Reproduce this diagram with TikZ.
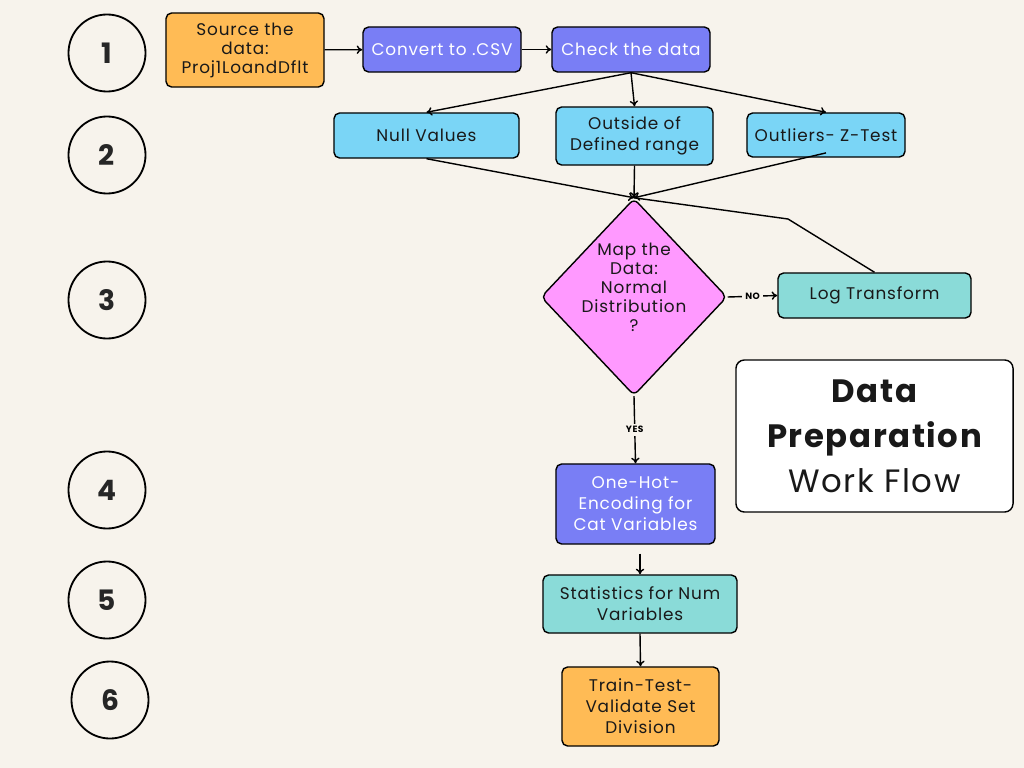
\documentclass[tikz,border=0pt]{standalone}
\usepackage{fontspec}
\setmainfont{Poppins}[LetterSpace=5]
\usetikzlibrary{positioning,shapes.geometric,arrows.meta}
\definecolor{paper}{HTML}{F7F3EC}
\definecolor{orangebox}{HTML}{FFBB55}
\definecolor{purplebox}{HTML}{797EF5}
\definecolor{bluebox}{HTML}{7AD5F6}
\definecolor{pinkbox}{HTML}{FF99FF}
\definecolor{tealbox}{HTML}{8ADBD8}
\newcommand{\SourceColor}{orangebox}
\newcommand{\ProcessColor}{purplebox}
\newcommand{\CheckColor}{bluebox}
\newcommand{\DecisionColor}{pinkbox}
\newcommand{\TransformColor}{tealbox}

\begin{document}
\begin{tikzpicture}[
	x=0.025cm, y=-0.025cm,
	% Define styles and settings
	box/.style={rectangle, draw, line width=1pt, rounded corners=4pt, text centered, align=center, inner sep=2pt, text=black!90, font=\fontsize{12}{15}\selectfont},
	stepcircle/.style={circle, draw, line width=1.3pt, minimum size=1.925cm, text=black!85, font=\fontsize{20}{20}\selectfont\bfseries},
	arrow/.style={-{To[length=4pt,width=6pt]}, line width=1pt},
	line/.style={line width=1pt},
	answer/.style={fill=paper, inner sep=2pt, font=\fontsize{6.5}{7}\selectfont\bfseries}
	]
	% \draw[help lines] (0,0) grid (1024,768);
	\fill[paper] (0,0) rectangle (1024,768);

	% steps on the left
	\draw (107,53) node[stepcircle] (Step_1) {1};
	\draw (107,155) node[stepcircle] (Step_2) {2};
	\draw (107,300) node[stepcircle] (Step_3) {3};
	\draw (107,490) node[stepcircle] (Step_4) {4};
	\draw (107,600) node[stepcircle] (Step_5) {5};
	\draw (110,700) node[stepcircle] (Step_6) {6};

	\draw (245,50) node[box,minimum width=3.95cm,minimum height=1.85cm,fill=\SourceColor,font=\fontsize{12}{13.5}\selectfont] (Source) {Source the\\data:\\Proj1LoandDflt};
	\draw (442,49.5) node[box,minimum width=3.95cm,minimum height=1.125cm,fill=\ProcessColor,text=white] (Convert) {Convert to .CSV};
	\draw (631,49.5) node[box,minimum width=3.95cm,minimum height=1.125cm,fill=\ProcessColor,text=white] (Check) {Check the data};

	\draw (426.5,135.5) node[box,minimum width=4.625cm,minimum height=1.125cm,fill=\CheckColor] (Null) {Null Values};
	\draw (634.5,136) node[box,minimum width=3.925cm,minimum height=1.45cm,fill=\CheckColor] (Outside) {Outside of\\Defined range};
	\draw (826,135) node[box,minimum width=3.95cm,minimum height=1.1cm,fill=\CheckColor] (Outliers) {Outliers- Z-Test};

	\draw (634,297) node[diamond,draw,line width=1pt,rounded corners=4pt,fill=\DecisionColor,minimum width=4.65cm,minimum height=4.925cm,inner sep=0pt] (Normal) {};
	\draw (634,287) node[align=center,text=black!90,font=\fontsize{12}{13.5}\selectfont] (NormalText) {Map the\\Data:\\Normal\\Distribution\\?};
	\draw (874.5,295.5) node[box,minimum width=4.825cm,minimum height=1.125cm,fill=\TransformColor] (Log) {Log Transform};
	\coordinate (LogBend) at (788,219);

	\draw (874.5,436) node[box,minimum width=6.925cm,minimum height=3.8cm,fill=white,rounded corners=6pt,font=\fontsize{23}{32}\selectfont] (Title) {\bfseries Data\\\bfseries Preparation\\Work Flow};

	\draw (635.5,504) node[box,minimum width=3.975cm,minimum height=2cm,fill=\ProcessColor,text=white] (OneHot) {One-Hot-\\Encoding for\\Cat Variables};
	\draw (640,604) node[box,minimum width=4.85cm,minimum height=1.45cm,fill=\TransformColor] (Stats) {Statistics for Num\\Variables};
	\draw (640.5,706.5) node[box,minimum width=3.925cm,minimum height=1.975cm,fill=\SourceColor] (Split) {Train-Test-\\Validate Set\\Division};

	% connectors
	\draw[arrow] (Source) -- (Convert);
	\draw[arrow] (Convert) -- (Check);

	\draw[arrow] (Check.south) -- (Null.north);
	\draw[arrow] (Check.south) -- (Outside.north);
	\draw[arrow] (Check.south) -- (Outliers.north);

	\draw[arrow] (Null.south) -- (Normal.north);
	\draw[arrow] (Outside.south) -- (Normal.north);
	\draw[arrow] ([yshift=0.12cm]Outliers.south) -- (Normal.north);
	\draw[line] (Log.north) -- (LogBend) -- (Normal.north);

	\draw[arrow] (Normal.east) -- (Log.west) node[answer,midway] {NO};
	\draw[arrow] (Normal.south) -- (OneHot.north) node[answer,midway] {YES};

	\draw[arrow,shorten <=0.225cm] (OneHot.south -| Stats.north) -- (Stats.north);
	\draw[arrow] (Stats.south) -- (Split.north);

\end{tikzpicture}
\end{document}
